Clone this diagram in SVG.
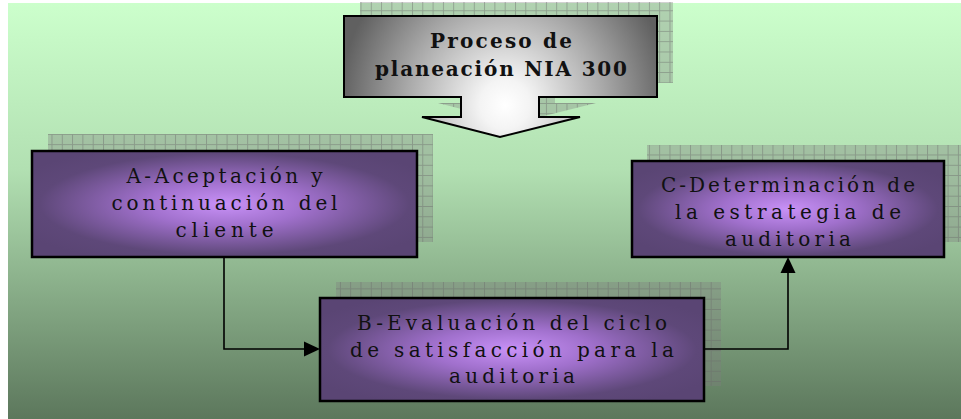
<svg xmlns="http://www.w3.org/2000/svg" width="961" height="419" viewBox="0 0 961 419">
<defs>
<style>
.box{stroke:#000;stroke-width:2.5;fill:url(#purple)}
.shadow{fill:url(#grid)}
.t{font-family:"DejaVu Serif","Liberation Serif",serif;font-size:20px;fill:#111;text-anchor:middle}
.tb{font-weight:bold}
.conn{fill:none;stroke:#000;stroke-width:1.6}
</style>
<linearGradient id="bg" x1="0" y1="0" x2="0" y2="1">
<stop offset="0" stop-color="#ccffcc"/>
<stop offset="0.4" stop-color="#b2e0b2"/>
<stop offset="1" stop-color="#5c775c"/>
</linearGradient>
<radialGradient id="purple" cx="0.5" cy="0.5" r="0.6">
<stop offset="0" stop-color="#c891f7"/>
<stop offset="0.35" stop-color="#a070cc"/>
<stop offset="0.8" stop-color="#5e4879"/>
<stop offset="1" stop-color="#5a4574"/>
</radialGradient>
<radialGradient id="gray" gradientUnits="userSpaceOnUse" cx="505" cy="100" r="165" fx="505" fy="105">
<stop offset="0" stop-color="#ffffff"/>
<stop offset="0.15" stop-color="#f4f4f4"/>
<stop offset="0.6" stop-color="#a8a8a8"/>
<stop offset="1" stop-color="#606060"/>
</radialGradient>
<pattern id="grid" width="10.3" height="10.3" patternUnits="userSpaceOnUse">
<rect width="10.3" height="10.3" fill="#7d7d7d" fill-opacity="0.35"/>
<path d="M0 0.5H10.3M0.5 0V10.3" stroke="#6a6a6a" stroke-opacity="0.45" stroke-width="1"/>
</pattern>
</defs>
<rect x="8" y="3" width="953" height="416" fill="url(#bg)"/>
<g id="proceso">
<path class="shadow" d="M360 2H673V83H555V103H596L516 123L438 103H477V83H360Z"/>
<path d="M344 16H657V97H539V117H580L500 137L422 117H461V97H344Z" fill="url(#gray)" stroke="#000" stroke-width="2"/>
<text class="t tb" x="501" y="48" textLength="142" lengthAdjust="spacing">Proceso de</text>
<text class="t tb" x="501" y="76" textLength="252" lengthAdjust="spacing">planeación NIA 300</text>
</g>
<g id="nodeA">
<rect class="shadow" x="48" y="134" width="385" height="108"/>
<rect class="box" x="32" y="151" width="385" height="106"/>
<text class="t" x="224.5" y="183" textLength="196" lengthAdjust="spacing">A-Aceptación y</text>
<text class="t" x="224.5" y="210" textLength="226" lengthAdjust="spacing">continuación del</text>
<text class="t" x="224.5" y="237" textLength="98" lengthAdjust="spacing">cliente</text>
</g>
<g id="nodeC">
<rect class="shadow" x="647" y="145" width="314" height="97"/>
<rect class="box" x="632" y="161" width="312" height="96"/>
<text class="t" x="788" y="192" textLength="254" lengthAdjust="spacing">C-Determinación de</text>
<text class="t" x="788" y="219" textLength="226" lengthAdjust="spacing">la estrategia de</text>
<text class="t" x="788" y="246" textLength="126" lengthAdjust="spacing">auditoria</text>
</g>
<g id="nodeB">
<rect class="shadow" x="336" y="282" width="385" height="104"/>
<rect class="box" x="320" y="298" width="384" height="103"/>
<text class="t" x="512" y="330" textLength="310" lengthAdjust="spacing">B-Evaluación del ciclo</text>
<text class="t" x="512" y="357" textLength="324" lengthAdjust="spacing">de satisfacción para la</text>
<text class="t" x="512" y="383" textLength="126" lengthAdjust="spacing">auditoria</text>
</g>
<g id="connectors">
<path class="conn" d="M224 257V349H305"/>
<path d="M304 341.5L320 349L304 356.5z" fill="#000"/>
<path class="conn" d="M704 349H788V272"/>
<path d="M780.5 273L788 257L795.5 273z" fill="#000"/>
</g>
</svg>
